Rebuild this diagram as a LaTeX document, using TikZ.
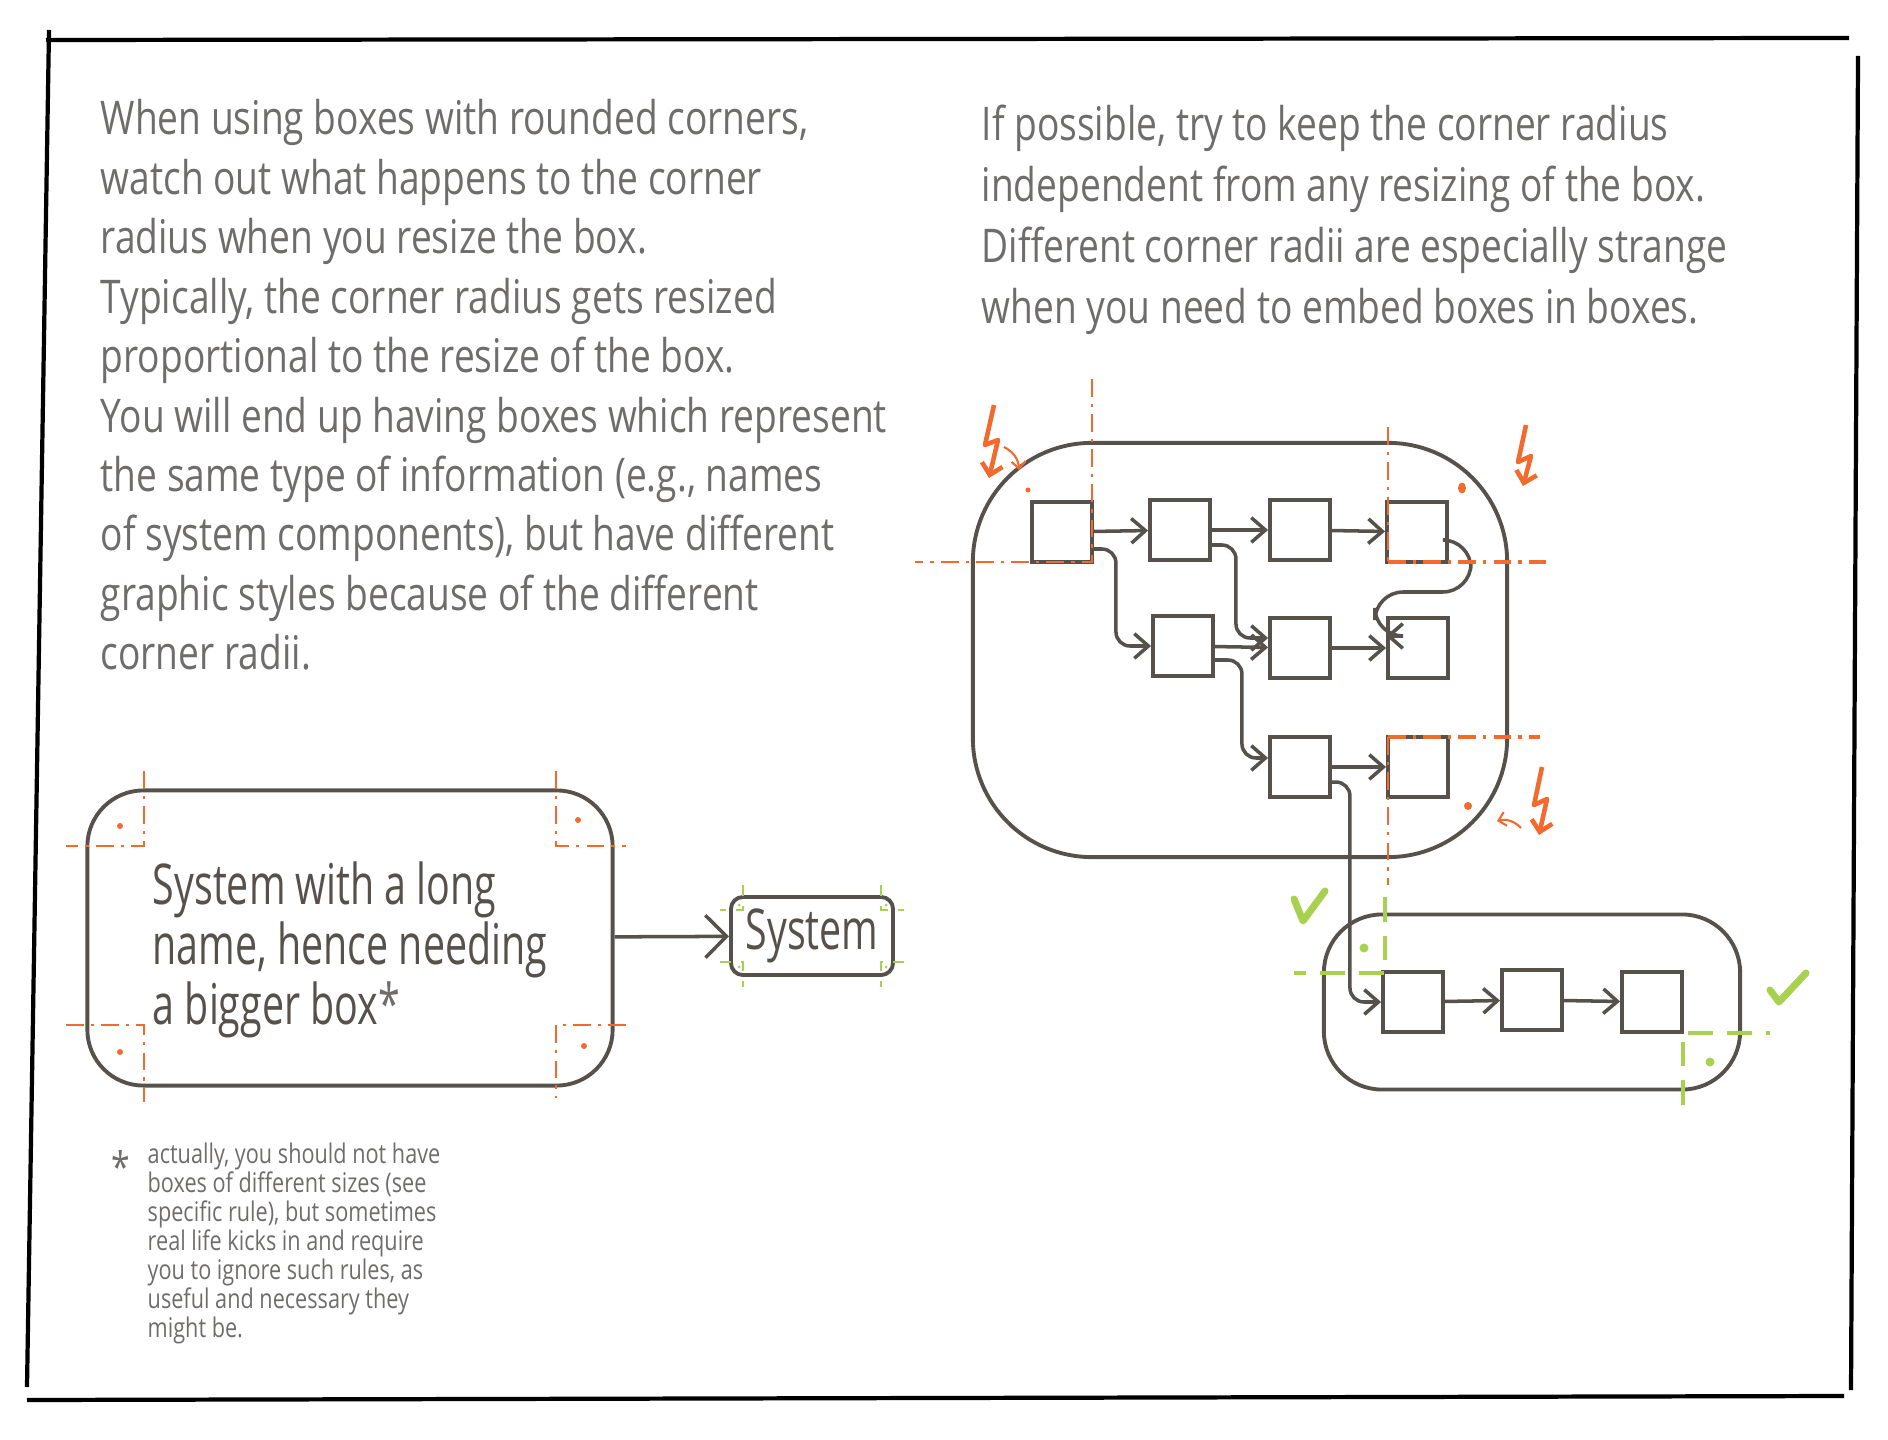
\documentclass[tikz,border=0pt]{standalone}
\usepackage{fontspec}
\setmainfont{Open Sans}[FakeStretch=0.8]
\newfontfamily\narrowhand{Open Sans}[FakeStretch=0.7]
\usetikzlibrary{arrows.meta}
\definecolor{ink}{HTML}{57514B}
\definecolor{pencil}{HTML}{6F6D6B}
\definecolor{warn}{HTML}{F26A2D}
\definecolor{okgreen}{HTML}{A8D14F}

\begin{document}
\begin{tikzpicture}[x=0.01cm,y=-0.01cm,
    every node/.style={inner sep=0pt},
    frameline/.style={draw=black,line width=1.2pt},
    note/.style={anchor=north west,align=left,text=pencil,font=\fontsize{13.2}{16.9}\selectfont},
    sysbox/.style={draw=ink,line width=1.1pt,text=ink,align=left,font=\narrowhand\fontsize{16}{17}\selectfont},
    outerbox/.style={draw=ink,line width=1.1pt},
    cell/.style={draw=ink,line width=1.1pt,minimum size=0.6cm},
    link/.style={draw=ink,line width=1pt,rounded corners=4pt,-{Straight Barb[length=4pt,width=7pt]}},
    redguide/.style={draw=warn,line width=0.5pt,dash pattern=on 5pt off 2pt on 1pt off 2pt},
    greenguide/.style={draw=okgreen,line width=1.1pt,dash pattern=on 7pt off 4pt},
    bolt/.style={draw=warn,line width=1.3pt,line join=round,-{Straight Barb[length=3pt,width=6pt]}},
    hint/.style={draw=warn,line width=0.6pt,-{Straight Barb[length=2pt,width=4pt]}},
    checkmark/.style={draw=okgreen,line width=2pt,line cap=round,line join=round}]
  \useasboundingbox (0,0) rectangle (1888,1440);
  \draw[frameline] (46,40) -- (1849,38);
  \draw[frameline] (49,30) -- (27,1387);
  \draw[frameline] (27,1400) -- (1844,1396);
  \draw[frameline] (1858,56) -- (1851,1390);

  \node[note] (rulea) at (100,99) {When using boxes with rounded corners,\\watch out what happens to the corner\\radius when you resize the box.\\Typically, the corner radius gets resized\\proportional to the resize of the box.\\You will end up having boxes which represent\\the same type of information (e.g., names\\of system components), but have different\\graphic styles because of the different\\corner radii.};
  \node[note,font=\fontsize{13.2}{17.4}\selectfont] (ruleb) at (981,104) {If possible, try to keep the corner radius\\independent from any resizing of the box.\\Different corner radii are especially strange\\when you need to embed boxes in boxes.};

  \node[sysbox,minimum width=5.25cm,minimum height=2.95cm,rounded corners=0.56cm] (longsys) at (350,938) {\rule{0pt}{0.67cm}System with a long\\name, hence needing\\a bigger box\textcolor{pencil}{*}};
  \node[sysbox,minimum width=1.62cm,minimum height=0.78cm,rounded corners=0.12cm] (sys) at (812,936) {System};
  \draw[link,-{Straight Barb[length=6pt,width=12pt]}] (longsys) -- (sys);
  \draw[redguide] (144,771) -- (144,846) -- (66,846);
  \draw[redguide] (556,771) -- (556,846) -- (626,846);
  \draw[redguide] (66,1025) -- (144,1025) -- (144,1102);
  \draw[redguide] (626,1025) -- (556,1025) -- (556,1098);
  \fill[warn] (120,826) circle[radius=0.03cm] (578,820) circle[radius=0.03cm]
    (120,1052) circle[radius=0.03cm] (584,1046) circle[radius=0.03cm];
  \draw[draw=okgreen,line width=0.5pt,dashed] (743,885) -- (743,910) -- (720,910)
    (881,885) -- (881,910) -- (904,910) (720,962) -- (743,962) -- (743,987)
    (904,962) -- (881,962) -- (881,987);
  \fill[okgreen] (739,905) circle[radius=0.015cm] (886,905) circle[radius=0.015cm]
    (739,967) circle[radius=0.015cm] (886,967) circle[radius=0.015cm];

  \node[note,font=\fontsize{12}{12}\selectfont] (star) at (111,1150) {*};
  \node[note,font=\fontsize{7.7}{8.25}\selectfont] (footnote) at (147,1142) {actually, you should not have\\boxes of different sizes (see\\specific rule), but sometimes\\real life kicks in and require\\you to ignore such rules, as\\useful and necessary they\\might be.};

  \node[outerbox,minimum width=5.34cm,minimum height=4.14cm,rounded corners=1.19cm] (outer) at (1240,650) {};
  \node[cell] (b11) at (1062,532) {};
  \node[cell] (b12) at (1180,530) {};
  \node[cell] (b13) at (1300,530) {};
  \node[cell] (b14) at (1417,532) {};
  \node[cell] (b22) at (1183,646) {};
  \node[cell] (b23) at (1300,648) {};
  \node[cell] (b24) at (1418,648) {};
  \node[cell] (b33) at (1300,767) {};
  \node[cell] (b34) at (1418,767) {};
  \node[outerbox,minimum width=4.16cm,minimum height=1.75cm,rounded corners=0.58cm] (lowbox) at (1532,1002) {};
  \node[cell] (c1) at (1413,1002) {};
  \node[cell] (c2) at (1532,1000) {};
  \node[cell] (c3) at (1652,1002) {};

  \draw[link] (b11) -- (b12);
  \draw[link] ([yshift=-0.17cm]b11.east) -- ++(22,0) |- (b22);
  \draw[link] (b12) -- (b13);
  \draw[link] ([yshift=-0.15cm]b12.east) -- ++(24,0) |- ([yshift=0.1cm]b23.west);
  \draw[link] (b13) -- (b14);
  \draw[link,rounded corners=8pt] ([yshift=-0.08cm]b14.east) -- ++(22,0) -- ++(0,52) -- ++(-96,0) |- ([yshift=0.12cm]b24.west);
  \draw[link] (b22) -- (b23);
  \draw[link] ([yshift=-0.14cm]b22.east) -- ++(27,0) |- ([yshift=0.09cm]b33.west);
  \draw[link] (b23) -- (b24);
  \draw[link] (b33) -- (b34);
  \draw[link] ([yshift=-0.15cm]b33.east) -- ++(18,0) |- (c1);
  \draw[link] (c1) -- (c2);
  \draw[link] (c2) -- (c3);

  \draw[redguide] (1092,379) -- (1092,562) -- (915,562);
  \draw[redguide] (1388,427) -- (1388,562);
  \draw[redguide,line width=1pt] (1388,562) -- (1548,562);
  \draw[redguide,line width=1pt] (1388,737) -- (1540,737);
  \draw[redguide] (1388,737) -- (1388,885);
  \fill[warn] (1028,490) circle[radius=0.025cm];
  \fill[warn] (1462,488) circle[x radius=0.04cm,y radius=0.055cm];
  \fill[warn] (1468,806) circle[radius=0.04cm];
  \draw[bolt] (994,405) -- (985,445) -- (998,440) -- (989,478);
  \draw[hint] (1004,447) to[bend left=30] (1019,470);
  \draw[bolt] (1526,425) -- (1518,462) -- (1531,456) -- (1523,486);
  \draw[bolt] (1542,767) -- (1534,805) -- (1547,799) -- (1539,835);
  \draw[hint] (1521,828) to[bend right=30] (1497,821);

  \draw[greenguide] (1385,897) -- (1385,973) -- (1294,973);
  \draw[greenguide] (1683,1105) -- (1683,1033) -- (1770,1033);
  \fill[okgreen] (1364,948) circle[radius=0.045cm] (1710,1062) circle[radius=0.045cm];
  \draw[checkmark] (1294,899) -- (1303,921) -- (1325,891);
  \draw[checkmark] (1770,990) -- (1779,1002) -- (1806,973);
\end{tikzpicture}
\end{document}
